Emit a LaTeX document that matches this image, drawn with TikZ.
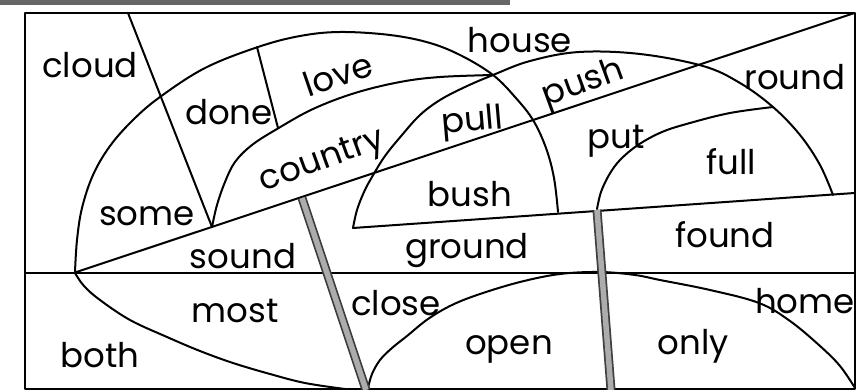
\documentclass[tikz,border=0pt]{standalone}
\usepackage{fontspec}
\newfontfamily\wordfont{Poppins}
\tikzset{
  ln/.style={line width=2pt, line join=round, line cap=round},
  word/.style={font={\wordfont\fontsize{34}{40}\selectfont}, inner sep=0pt, anchor=base},
  bandout/.style={line width=9pt, black!75},
  bandin/.style={line width=5.5pt, gray!65},
}
\begin{document}
\begin{tikzpicture}[x=1pt,y=-1pt]
\useasboundingbox (0,0) rectangle (856,390);
% scan band at the top
\fill[black!60] (0,0) rectangle (510,5);
% frame and middle line
\coordinate (TL) at (25,13);
\coordinate (TR) at (854.5,13);
\coordinate (BL) at (25,388.5);
\coordinate (BR) at (854.5,388.5);
\coordinate (ML) at (25,273);
\coordinate (MR) at (854.5,273);
\draw[ln] (TL) rectangle (BR);
\draw[ln] (ML) -- (MR);
% long diagonal
\coordinate (P) at (75,272.5);
\draw[ln] (P) -- (TR);
% second slanted base line
\coordinate (Da) at (353,228);
\coordinate (Db) at (854.5,193);
\draw[ln] (Da) -- (Db);
% straight separators
\coordinate (L1a) at (128,13);
\coordinate (L1b) at (212,227);
\draw[ln] (L1a) -- (L1b);
\coordinate (L2a) at (257,47);
\coordinate (L2b) at (278,128);
\draw[ln] (L2a) -- (L2b);
% arc A (outer left)
\draw[ln] plot[smooth, tension=0.6] coordinates {(75,272) (77,240) (82,208) (93,175) (110,146) (133,120) (160,97) (205,68) (258,47) (300,36) (340,32) (390,35) (430,43) (462,56) (493,75) (515,97) (533,120) (546,148) (554,178) (558,212)};
% arc B (outer right)
\draw[ln] plot[smooth, tension=0.6] coordinates {(353,228) (357,210) (364,192) (372,177) (385,156) (402,135) (420,115) (440,100) (465,87) (493,75) (530,61) (579,52) (640,54) (703,66) (740,83) (773,107) (800,135) (820,165) (833,195)};
% arc C (inner left)
\draw[ln] plot[smooth, tension=0.6] coordinates {(212,227) (217,205) (225,182) (235,162) (252,145) (277,129) (313,109) (355,93) (400,82) (440,77) (493,75)};
% arc D (inner right)
\draw[ln] plot[smooth, tension=0.6] coordinates {(597,209) (601,192) (609,175) (620,160) (638,145) (662,132) (690,123) (730,113) (773,107)};
% arc E (lower left)
\draw[ln] plot[smooth, tension=0.6] coordinates {(75,273) (84,286) (100,300) (130,320) (167,337) (200,351) (233,363) (270,374) (305,383) (345,389)};
% arc F (lower right)
\draw[ln] plot[smooth, tension=0.6] coordinates {(368,388) (372,374) (380,360) (392,348) (407,336) (428,319) (452,305) (480,294) (520,282) (560,274) (600,272) (635,275) (660,280) (710,290) (759,303) (790,321) (820,346) (840,366) (855,388)};
% grey bands
\coordinate (G1a) at (302,198);
\coordinate (G1b) at (366,390);
\coordinate (G2a) at (597,210);
\coordinate (G2b) at (611,390);
\draw[bandout] (G1a) -- (G1b);
\draw[bandin] (G1a) -- (G1b);
\draw[bandout] (G2a) -- (G2b);
\draw[bandin] (G2a) -- (G2b);
% words
\node[word] (cloud) at (90,78) {cloud};
\node[word] (done) at (229,125) {done};
\node[word] (house) at (520,53) {house};
\node[word, rotate=19] (love) at (342,86) {love};
\node[word, rotate=20] (country) at (325,169) {country};
\node[word, rotate=5] (pull) at (473,131) {pull};
\node[word, rotate=20] (push) at (586,92) {push};
\node[word] (round) at (795,90) {round};
\node[word] (put) at (616,149) {put};
\node[word] (full) at (731,175) {full};
\node[word] (bush) at (470,207) {bush};
\node[word] (some) at (147,225) {some};
\node[word] (sound) at (243,268) {sound};
\node[word] (ground) at (467,258) {ground};
\node[word] (found) at (725,247) {found};
\node[word] (most) at (235,322) {most};
\node[word] (close) at (396,315) {close};
\node[word] (open) at (509,354) {open};
\node[word] (only) at (693,354) {only};
\node[word] (home) at (805,313) {home};
\node[word] (both) at (100,367) {both};
\end{tikzpicture}
\end{document}
